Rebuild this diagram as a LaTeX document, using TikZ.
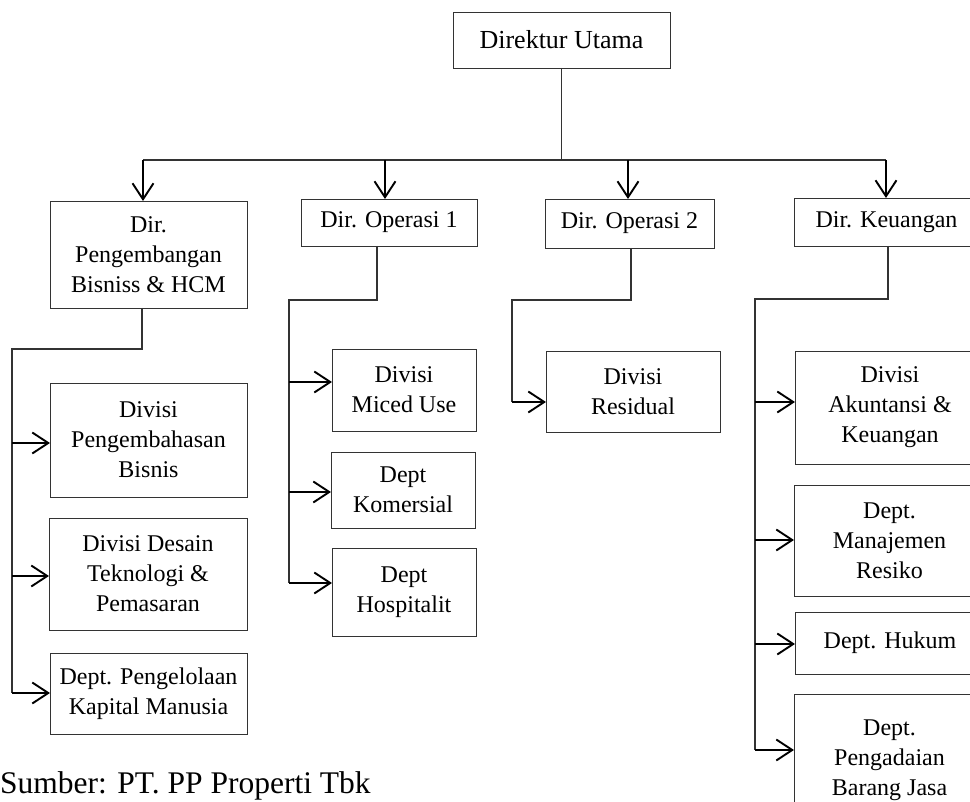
\documentclass[tikz,border=0pt]{standalone}
\usepackage{fontspec}
\setmainfont{Liberation Serif}
\usetikzlibrary{arrows.meta}

\begin{document}
\begin{tikzpicture}[x=1pt,y=-1pt,
  orgbox/.style={draw=black!80, line width=0.9pt, rectangle, inner sep=0pt, outer sep=0pt,
    align=center, font=\fontsize{24}{30}\selectfont},
  trunk/.style={draw=black!80, line width=1.1pt},
  arr/.style={draw=black, line width=1.9pt, -{Straight Barb[length=16pt,width=21pt]}}]
\useasboundingbox (0,0) rectangle (970,802);
\clip (0,0) rectangle (970,802);

% top level
\node[orgbox, minimum width=217pt, minimum height=56pt, font=\fontsize{26}{30}\selectfont] (du) at (561.5,40) {Direktur Utama};

% directors
\node[orgbox, minimum width=197pt, minimum height=107pt] (dA) at (148.5,254.5) {Dir.\\Pengembangan\\Bisniss \& HCM};
\node[orgbox, minimum width=176pt, minimum height=47pt] (dB) at (389,222.5) {Dir. Operasi 1};
\node[orgbox, minimum width=169pt, minimum height=49pt] (dC) at (629.5,223.5) {Dir. Operasi 2};
\node[orgbox, minimum width=185pt, minimum height=48pt] (dD) at (886.5,222) {Dir. Keuangan};

% units under business development
\node[orgbox, minimum width=197pt, minimum height=114pt] (a1) at (148.5,440) {Divisi\\Pengembahasan\\Bisnis};
\node[orgbox, minimum width=198pt, minimum height=112pt] (a2) at (148,574) {Divisi Desain\\Teknologi \&\\Pemasaran};
\node[orgbox, minimum width=197pt, minimum height=81pt] (a3) at (148.5,693.5) {Dept. Pengelolaan\\Kapital Manusia};

% units under operations 1
\node[orgbox, minimum width=144pt, minimum height=82pt] (b1) at (404,390) {Divisi\\Miced Use};
\node[orgbox, minimum width=144pt, minimum height=76pt] (b2) at (403,490) {Dept\\Komersial};
\node[orgbox, minimum width=144pt, minimum height=88pt] (b3) at (404,592) {Dept\\Hospitalit};

% unit under operations 2
\node[orgbox, minimum width=174pt, minimum height=81pt] (c1) at (633,391.5) {Divisi\\Residual};

% units under finance
\node[orgbox, minimum width=190pt, minimum height=113pt] (e1) at (890,407.5) {Divisi\\Akuntansi \&\\Keuangan};
\node[orgbox, minimum width=191pt, minimum height=111pt] (e2) at (889.5,540.5) {Dept.\\Manajemen\\Resiko};
\node[orgbox, minimum width=190pt, minimum height=62pt] (e3) at (890,643) {Dept. Hukum};
\node[orgbox, minimum width=191pt, minimum height=132pt] (e4) at (889.5,760) {Dept.\\Pengadaian\\Barang Jasa};

% source line
\node[anchor=base west, inner sep=0pt, font=\fontsize{31.5}{36}\selectfont] (src) at (0,793) {Sumber: PT. PP Properti Tbk};

% top distribution bar
\coordinate (h1) at (143,160);
\coordinate (h2) at (385,160);
\coordinate (h3) at (628,160);
\coordinate (h4) at (886,160);
\draw[trunk] (du.south) -- (du.south |- h1);
\draw[trunk] (h1) -- (h4);
\draw[arr] (h1) -- (h1 |- dA.north);
\draw[arr] (h2) -- (h2 |- dB.north);
\draw[arr] (h3) -- (h3 |- dC.north);
\draw[arr] (h4) -- (h4 |- dD.north);

% business development branch
\coordinate (ja) at (142,349);
\coordinate (ta) at (12,349);
\coordinate (pa1) at (12,443);
\coordinate (pa2) at (12,576);
\coordinate (pa3) at (12,693);
\draw[trunk] (dA.south -| ja) -- (ja) -- (ta) -- (pa3);
\draw[arr] (pa1) -- (pa1 -| a1.west);
\draw[arr] (pa2) -- (pa2 -| a2.west);
\draw[arr] (pa3) -- (pa3 -| a3.west);

% operations 1 branch
\coordinate (jb) at (377,300);
\coordinate (tb) at (289,300);
\coordinate (pb1) at (289,382);
\coordinate (pb2) at (289,492);
\coordinate (pb3) at (289,583);
\draw[trunk] (dB.south -| jb) -- (jb) -- (tb) -- (pb3);
\draw[arr] (pb1) -- (pb1 -| b1.west);
\draw[arr] (pb2) -- (pb2 -| b2.west);
\draw[arr] (pb3) -- (pb3 -| b3.west);

% operations 2 branch
\coordinate (jc) at (631,300);
\coordinate (tc) at (512,300);
\coordinate (pc1) at (512,402);
\draw[trunk] (dC.south -| jc) -- (jc) -- (tc) -- (pc1);
\draw[arr] (pc1) -- (pc1 -| c1.west);

% finance branch
\coordinate (jd) at (888,299);
\coordinate (td) at (755,299);
\coordinate (pd1) at (755,402);
\coordinate (pd2) at (755,540);
\coordinate (pd3) at (755,644);
\coordinate (pd4) at (755,750);
\draw[trunk] (dD.south -| jd) -- (jd) -- (td) -- (pd4);
\draw[arr] (pd1) -- (pd1 -| e1.west);
\draw[arr] (pd2) -- (pd2 -| e2.west);
\draw[arr] (pd3) -- (pd3 -| e3.west);
\draw[arr] (pd4) -- (pd4 -| e4.west);
\end{tikzpicture}
\end{document}
